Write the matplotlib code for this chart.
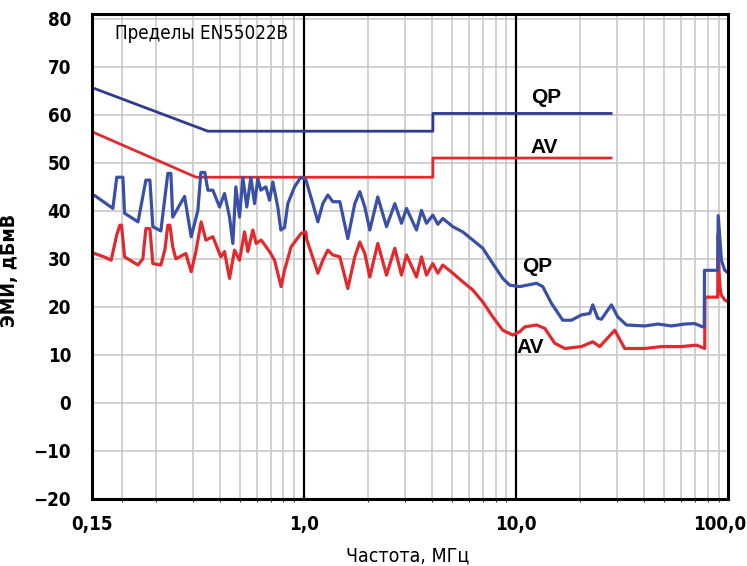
import numpy as np
import matplotlib
matplotlib.use("Agg")
import matplotlib.pyplot as plt
from matplotlib import font_manager as fm
from matplotlib.ticker import FixedLocator, NullFormatter

# limit lines EN55022B (frequency in MHz as drawn on the axis, level in dBuV)
qp_lim_f = [0.1, 0.352, 4.05, 4.05, 28.0]
qp_lim_v = [65.7, 56.6, 56.6, 60.3, 60.3]
av_lim_f = [0.1, 0.31, 4.05, 4.05, 28.0]
av_lim_v = [56.5, 47.0, 47.0, 51.0, 51.0]

# measured quasi-peak
qp_f = [0.1, 0.103, 0.1256, 0.131, 0.140, 0.1426, 0.165, 0.1797, 0.1877, 0.1938,
        0.2114, 0.228, 0.2357, 0.2405, 0.2735, 0.2938, 0.3158, 0.3264, 0.3407, 0.3521,
        0.3717, 0.3997, 0.422, 0.4455, 0.4618, 0.4771, 0.4966, 0.5146, 0.5374, 0.5615,
        0.5844, 0.6057, 0.6257, 0.6607, 0.6878, 0.7127, 0.7523, 0.7774, 0.809, 0.8389,
        0.902, 0.966, 1.02, 1.1, 1.162, 1.226, 1.295, 1.367, 1.475, 1.608,
        1.735, 1.832, 1.934, 2.042, 2.227, 2.448, 2.679, 2.88, 3.041, 3.39,
        3.579, 3.779, 4.046, 4.272, 4.51, 5.027, 5.603, 6.245, 6.96, 7.758,
        8.647, 9.329, 10.4, 12.47, 13.35, 14.67, 16.58, 18.22, 20.31, 22.23,
        22.96, 24.24, 25.23, 28.12, 30.11, 33.1, 40.37, 46.48, 53.93, 62.32,
        69.45, 75.75, 77.0, 77.2, 89.1, 89.6, 92.8, 96.2, 100.0]
qp_v = [43.0, 43.2, 40.5, 47.0, 47.0, 39.5, 37.7, 46.4, 46.4, 36.7,
        35.8, 47.8, 47.8, 38.7, 43.0, 34.6, 40.0, 48.0, 48.0, 44.3,
        44.3, 40.8, 43.6, 38.7, 33.2, 45.0, 38.7, 47.0, 40.8, 47.0,
        41.5, 46.7, 44.3, 45.0, 42.2, 46.0, 40.8, 36.0, 36.5, 41.5,
        45.0, 47.0, 46.5, 41.5, 37.7, 41.5, 43.3, 41.9, 41.9, 34.2,
        41.5, 44.0, 40.8, 36.0, 42.9, 36.7, 41.5, 37.4, 40.5, 36.0,
        40.1, 37.4, 39.1, 37.2, 38.4, 36.7, 35.6, 33.9, 32.2, 29.0,
        25.9, 24.5, 24.2, 24.9, 24.2, 20.7, 17.2, 17.2, 18.3, 18.6,
        20.4, 17.6, 17.4, 20.4, 17.9, 16.2, 16.0, 16.4, 16.0, 16.4,
        16.5, 15.8, 15.8, 27.6, 27.6, 39.0, 29.7, 27.6, 27.0]

# measured average
av_f = [0.1, 0.103, 0.1142, 0.1233, 0.131, 0.1355, 0.138, 0.1426, 0.165, 0.1739,
        0.1797, 0.1877, 0.1938, 0.2114, 0.2211, 0.228, 0.2333, 0.2405, 0.2488, 0.2773,
        0.2938, 0.3092, 0.3274, 0.3446, 0.3717, 0.4054, 0.422, 0.4455, 0.4704, 0.4966,
        0.5243, 0.5434, 0.5737, 0.5947, 0.6278, 0.6628, 0.6878, 0.7261, 0.78, 0.809,
        0.8695, 0.969, 1.02, 1.03, 1.124, 1.162, 1.226, 1.295, 1.367, 1.475,
        1.608, 1.735, 1.832, 1.934, 2.042, 2.227, 2.448, 2.679, 2.88, 3.041,
        3.39, 3.579, 3.779, 4.046, 4.272, 4.51, 5.027, 5.603, 6.245, 6.96,
        7.758, 8.647, 9.64, 10.4, 10.98, 12.47, 13.64, 15.2, 16.94, 20.31,
        22.96, 24.77, 29.15, 32.49, 40.37, 48.38, 60.1, 70.74, 77.4, 77.6,
        89.1, 89.6, 90.5, 91.5, 92.5, 96.2, 100.0]
av_v = [31.0, 31.1, 30.4, 29.7, 35.0, 37.0, 37.0, 30.4, 28.7, 30.0,
        36.3, 36.3, 29.0, 28.7, 32.0, 37.0, 37.0, 32.5, 30.0, 31.1,
        27.3, 31.5, 37.7, 33.9, 34.6, 30.4, 31.5, 25.9, 31.8, 29.7,
        35.6, 31.5, 36.0, 33.2, 33.9, 32.5, 31.5, 29.7, 24.2, 27.6,
        32.5, 35.3, 35.6, 34.0, 29.0, 27.0, 29.7, 31.8, 30.8, 30.4,
        23.8, 30.4, 33.5, 31.1, 26.2, 33.2, 26.6, 32.2, 26.6, 30.8,
        26.2, 30.4, 26.6, 29.0, 27.0, 28.7, 27.0, 25.2, 23.5, 21.0,
        17.9, 15.1, 14.1, 14.8, 15.8, 16.2, 15.5, 12.4, 11.3, 11.7,
        12.7, 11.7, 15.1, 11.3, 11.3, 11.7, 11.7, 12.0, 11.3, 22.0,
        22.0, 35.0, 27.0, 24.0, 22.5, 21.4, 21.0]

y_ticks = [-20, -10, 0, 10, 20, 30, 40, 50, 60, 70, 80]
x_ticks = [0.1, 1.0, 10.0, 100.0]
x_tick_labels = ['0,15', '1,0', '10,0', '100,0']

blue_lim = '#2e3b8e'
blue = '#3a50a6'
red = '#e02a2e'

# look for a narrow face (the original uses a condensed font)
def find_font(bold):
    want = 'bold' if bold else 'normal'
    for f in fm.fontManager.ttflist:
        narrow = ('Narrow' in f.name or 'Condensed' in f.name
                  or f.stretch in ('condensed', 'semi-condensed'))
        isbold = f.weight in ('bold', 700, 600, 'semibold', 'demibold')
        if narrow and f.style == 'normal' and isbold == bold:
            return fm.FontProperties(fname=f.fname), True
    return fm.FontProperties(family='Liberation Sans', weight=want), False

reg, reg_narrow = find_font(False)
bld, bld_narrow = find_font(True)
if not bld_narrow and reg_narrow:
    bld = reg
k = 1.0 if reg_narrow else 0.85

fig = plt.figure(figsize=(7.47, 5.66), dpi=100)
ax = fig.add_axes([0.123, 0.119, 0.852, 0.856])
ax.set_xscale('log')
ax.set_xlim(0.1, 100)
ax.set_ylim(-20, 81)

# grid
minor = [0.138] + [m * 10.0 ** d for d in (-1, 0, 1) for m in range(2, 10)]
ax.xaxis.set_minor_locator(FixedLocator(minor))
ax.xaxis.set_minor_formatter(NullFormatter())
ax.set_xticks(x_ticks)
# last label is drawn by hand a little to the left so it stays in the picture
ax.set_xticklabels(x_tick_labels[:-1] + [''])
ax.set_yticks(y_ticks)
ax.set_yticklabels(['\u2212' + str(-t) if t < 0 else str(t) for t in y_ticks])
ax.grid(True, which='minor', axis='x', color='#c9c9c9', lw=1.2)
ax.grid(True, which='major', axis='y', color='#c9c9c9', lw=1.2)
for f in (1.0, 10.0):
    ax.axvline(f, color='black', lw=1.6, zorder=2)

ax.plot(qp_lim_f, qp_lim_v, color=blue_lim, lw=2.0, zorder=3)
ax.plot(av_lim_f, av_lim_v, color=red, lw=2.0, zorder=3)
ax.plot(av_f, av_v, color=red, lw=2.3, zorder=4, solid_joinstyle='round')
ax.plot(qp_f, qp_v, color=blue, lw=2.3, zorder=5, solid_joinstyle='round')

for s in ax.spines.values():
    s.set_linewidth(2.2)
    s.set_zorder(6)
ax.tick_params(length=0, pad=12)
ax.tick_params(axis='y', pad=15)
for lab in ax.get_xticklabels() + ax.get_yticklabels():
    lab.set_fontproperties(bld)
    lab.set_fontsize(13.5 * k)
ax.annotate(x_tick_labels[-1], xy=(x_ticks[-1], 0), xycoords=('data', 'axes fraction'),
            xytext=(-6, -12), textcoords='offset points', ha='center', va='top',
            fontproperties=bld, fontsize=13.5 * k, annotation_clip=False)

ax.text(0.128, 77, 'Пределы EN55022B', fontproperties=reg, fontsize=13.5 * k,
        ha='left', va='center')
lbl = dict(fontsize=15, fontweight='bold', family=['Liberation Sans', 'DejaVu Sans'],
           ha='center', va='center', zorder=7)
ax.text(13.9, 63.7, 'QP', **lbl)
ax.text(13.6, 53.3, 'AV', **lbl)
ax.text(12.6, 28.3, 'QP', **lbl)
ax.text(11.7, 11.6, 'AV', **lbl)

ax.set_xlabel('Частота, МГц', fontproperties=reg, fontsize=14 * k)
ax.set_ylabel('ЭМИ, дБмВ', fontproperties=bld, fontsize=14 * k)
ax.xaxis.set_label_coords(0.4965, -0.098)
ax.yaxis.set_label_coords(-0.115, 0.472)

fig.savefig('out.png', dpi=100)
